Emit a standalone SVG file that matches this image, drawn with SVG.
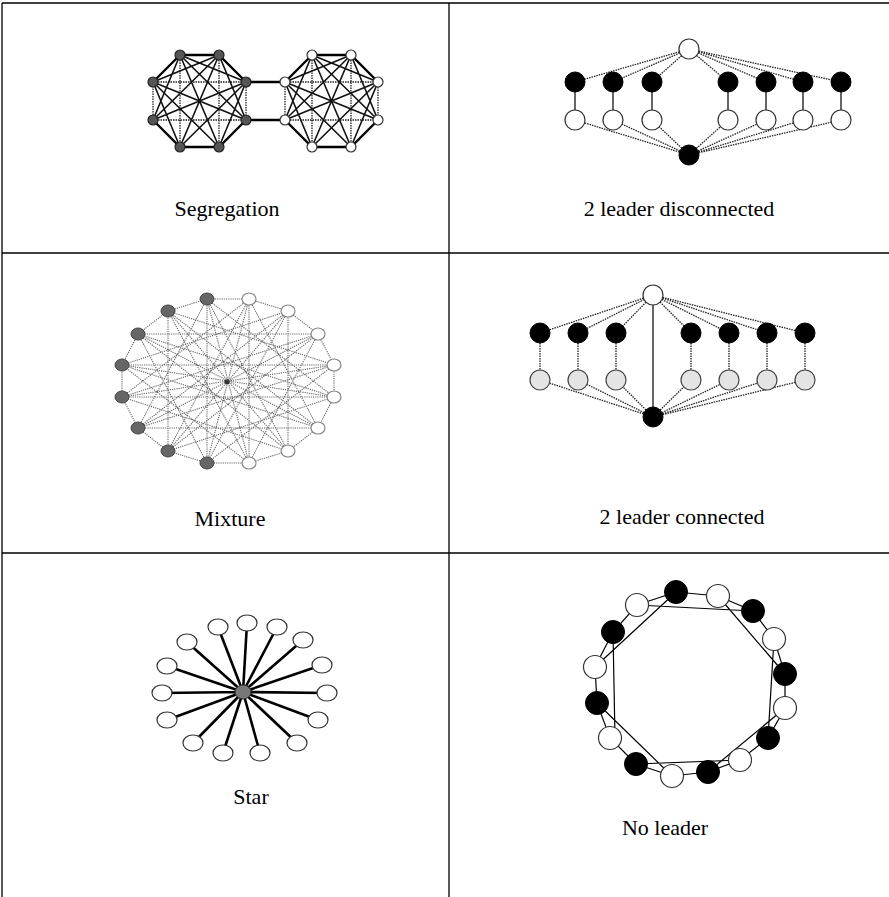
<svg xmlns="http://www.w3.org/2000/svg" width="889" height="897" viewBox="0 0 889 897">
<style>
.grid{stroke:#000;stroke-width:1.3;fill:none}
.lbl{font-family:'Liberation Serif','DejaVu Serif',serif;font-size:22px;fill:#000;text-anchor:middle}
.sol{stroke:#111;stroke-width:1.6;fill:none}
.thick{stroke:#000;stroke-width:2.4;fill:none}
.dot{stroke:#222;stroke-width:1.3;stroke-dasharray:1.5 1;fill:none}
.gdot{stroke:#666;stroke-width:1.1;stroke-dasharray:1.2 1;fill:none}
.thin{stroke:#000;stroke-width:1.2;fill:none}
.star{stroke:#000;stroke-width:2.6;fill:none}
.nd{fill:#555;stroke:#222;stroke-width:1.2}
.nw{fill:#fff;stroke:#333;stroke-width:1.2}
.nb{fill:#000;stroke:#000;stroke-width:1}
.ng{fill:#e4e4e4;stroke:#444;stroke-width:1.2}
.nm{fill:#666;stroke:#444;stroke-width:1}
.nmw{fill:#fff;stroke:#888;stroke-width:1.2}
</style>
<g id="grid">
<path class="grid" d="M2,3 H889 M2,3 V897 M449,3 V897 M2,253 H889 M2,553 H889"/>
</g>
<g id="connectors">
<path class="thick" d="M180,55 L219,55 L246,82 M246,120 L219,147 L180,147 L153,120 M153,82 L180,55"/>
<path class="dot" d="M246,82 L246,120 M153,120 L153,82 M180,55 L180,147 M219,55 L219,147 M153,82 L246,82 M153,120 L246,120"/>
<path class="sol" d="M180,55 L246,120 M180,55 L219,147 M180,55 L153,120 M219,55 L153,120 M219,55 L180,147 M219,55 L246,120 M246,82 L219,147 M246,82 L180,147 M246,82 L153,120 M153,82 L246,120 M153,82 L219,147 M153,82 L180,147 M180,55 L246,82 M219,55 L153,82 M153,120 L180,147 M246,120 L219,147"/>
<path class="thick" d="M312,55 L351,55 L378,82 M378,120 L351,147 L312,147 L285,120 M285,82 L312,55"/>
<path class="dot" d="M378,82 L378,120 M285,120 L285,82 M312,55 L312,147 M351,55 L351,147 M285,82 L378,82 M285,120 L378,120"/>
<path class="sol" d="M312,55 L378,120 M312,55 L351,147 M312,55 L285,120 M351,55 L285,120 M351,55 L312,147 M351,55 L378,120 M378,82 L351,147 M378,82 L312,147 M378,82 L285,120 M285,82 L378,120 M285,82 L351,147 M285,82 L312,147 M312,55 L378,82 M351,55 L285,82 M285,120 L312,147 M378,120 L351,147"/>
<path class="thick" d="M246,82 L285,82 M246,120 L285,120"/>
<path class="dot" d="M689,49 L575,82 M689,49 L613,82 M689,49 L652,82 M689,49 L728,82 M689,49 L766,82 M689,49 L803,82 M689,49 L841,82"/>
<path class="thin" d="M575,82 V120 M613,82 V120 M652,82 V120 M728,82 V120 M766,82 V120 M803,82 V120 M841,82 V120"/>
<path class="dot" d="M689,155 L575,120 M689,155 L613,120 M689,155 L652,120 M689,155 L728,120 M689,155 L766,120 M689,155 L803,120 M689,155 L841,120"/>
<path class="gdot" d="M334,397 L318,428 L288,451 L249,463 L207,463 L168,451 L138,428 L122,397 L122,365 L138,334 L168,311 L207,299 L249,299 L288,311 L318,334 L334,365 Z"/>
<path class="gdot" d="M334,397L122,365 M318,428L138,334 M288,451L168,311 M249,463L207,299 M207,463L249,299 M168,451L288,311 M138,428L318,334 M122,397L334,365"/>
<path class="gdot" d="M334,397L168,451 M318,428L138,428 M288,451L122,397 M249,463L122,365 M207,463L138,334 M168,451L168,311 M138,428L207,299 M122,397L249,299 M122,365L288,311 M138,334L318,334 M168,311L334,365 M207,299L334,397 M249,299L318,428 M288,311L288,451 M318,334L249,463 M334,365L207,463"/>
<path class="gdot" d="M334,397L122,397 M318,428L122,365 M288,451L138,334 M249,463L168,311 M207,463L207,299 M168,451L249,299 M138,428L288,311 M122,397L318,334 M122,365L334,365 M138,334L334,397 M168,311L318,428 M207,299L288,451 M249,299L249,463 M288,311L207,463 M318,334L168,451 M334,365L138,428"/>
<path class="dot" d="M653,295 L540,333 M653,295 L578,333 M653,295 L616,333 M653,295 L691,333 M653,295 L729,333 M653,295 L767,333 M653,295 L805,333"/>
<path class="thin" d="M653,295 L653,417"/>
<path class="dot" d="M540,333 V380 M578,333 V380 M616,333 V380 M691,333 V380 M729,333 V380 M767,333 V380 M805,333 V380"/>
<path class="dot" d="M653,417 L540,380 M653,417 L578,380 M653,417 L616,380 M653,417 L691,380 M653,417 L729,380 M653,417 L767,380 M653,417 L805,380"/>
<path class="star" d="M243,692 L218,627 M243,692 L247,623 M243,692 L277,627 M243,692 L303,640 M243,692 L322,665 M243,692 L327,693 M243,692 L318,720 M243,692 L297,743 M243,692 L260,753 M243,692 L223,753 M243,692 L193,743 M243,692 L167,720 M243,692 L162,693 M243,692 L167,666 M243,692 L187,642"/>
<path class="thin" d="M676,592 L718,596 L753,611 L774,639 L785,674 L785,708 L768,738 L740,760 L708,772 L672,776 L636,764 L610,738 L597,703 L595,667 L613,632 L637,605 Z"/>
<path class="thin" d="M637,605 L753,611 M676,592 L595,667 M718,596 L785,674 M774,639 L768,738 M785,708 L708,772 M597,703 L672,776 M613,632 L615,738 M636,764 L740,760"/>
</g>
<g id="seg-left-nodes">
<circle class="nd" cx="180" cy="55" r="5"/><circle class="nd" cx="219" cy="55" r="5"/><circle class="nd" cx="246" cy="82" r="5"/><circle class="nd" cx="246" cy="120" r="5"/><circle class="nd" cx="219" cy="147" r="5"/><circle class="nd" cx="180" cy="147" r="5"/><circle class="nd" cx="153" cy="120" r="5"/><circle class="nd" cx="153" cy="82" r="5"/>
</g>
<g id="seg-right-nodes">
<circle class="nw" cx="312" cy="55" r="5"/><circle class="nw" cx="351" cy="55" r="5"/><circle class="nw" cx="378" cy="82" r="5"/><circle class="nw" cx="378" cy="120" r="5"/><circle class="nw" cx="351" cy="147" r="5"/><circle class="nw" cx="312" cy="147" r="5"/><circle class="nw" cx="285" cy="120" r="5"/><circle class="nw" cx="285" cy="82" r="5"/>
</g>
<g id="seg-label"><text class="lbl" font-family="Liberation Serif, serif" x="227" y="216">Segregation</text></g>
<g id="d2-top"><circle class="nw" cx="689" cy="49" r="10"/></g>
<g id="d2-black">
<circle class="nb" cx="575" cy="82" r="10"/><circle class="nb" cx="613" cy="82" r="10"/><circle class="nb" cx="652" cy="82" r="10"/><circle class="nb" cx="728" cy="82" r="10"/><circle class="nb" cx="766" cy="82" r="10"/><circle class="nb" cx="803" cy="82" r="10"/><circle class="nb" cx="841" cy="82" r="10"/>
</g>
<g id="d2-white">
<circle class="nw" cx="575" cy="120" r="10"/><circle class="nw" cx="613" cy="120" r="10"/><circle class="nw" cx="652" cy="120" r="10"/><circle class="nw" cx="728" cy="120" r="10"/><circle class="nw" cx="766" cy="120" r="10"/><circle class="nw" cx="803" cy="120" r="10"/><circle class="nw" cx="841" cy="120" r="10"/>
</g>
<g id="d2-bottom"><circle class="nb" cx="689" cy="155" r="10"/></g>
<g id="d2-label"><text class="lbl" font-family="Liberation Serif, serif" x="679" y="216">2 leader disconnected</text></g>
<g id="mix-nodes">
<ellipse class="nmw" cx="334" cy="397" rx="7" ry="6"/><ellipse class="nmw" cx="318" cy="428" rx="7" ry="6"/><ellipse class="nmw" cx="288" cy="451" rx="7" ry="6"/><ellipse class="nmw" cx="249" cy="463" rx="7" ry="6"/>
<ellipse class="nm" cx="207" cy="463" rx="7" ry="6"/><ellipse class="nm" cx="168" cy="451" rx="7" ry="6"/><ellipse class="nm" cx="138" cy="428" rx="7" ry="6"/><ellipse class="nm" cx="122" cy="397" rx="7" ry="6"/>
<ellipse class="nm" cx="122" cy="365" rx="7" ry="6"/><ellipse class="nm" cx="138" cy="334" rx="7" ry="6"/><ellipse class="nm" cx="168" cy="311" rx="7" ry="6"/><ellipse class="nm" cx="207" cy="299" rx="7" ry="6"/>
<ellipse class="nmw" cx="249" cy="299" rx="7" ry="6"/><ellipse class="nmw" cx="288" cy="311" rx="7" ry="6"/><ellipse class="nmw" cx="318" cy="334" rx="7" ry="6"/><ellipse class="nmw" cx="334" cy="365" rx="7" ry="6"/>
<circle fill="#333" cx="227" cy="382" r="2.5"/>
</g>
<g id="mix-label"><text class="lbl" font-family="Liberation Serif, serif" x="230" y="526">Mixture</text></g>
<g id="c2-top"><circle class="nw" cx="653" cy="295" r="10"/></g>
<g id="c2-black">
<circle class="nb" cx="540" cy="333" r="10"/><circle class="nb" cx="578" cy="333" r="10"/><circle class="nb" cx="616" cy="333" r="10"/><circle class="nb" cx="691" cy="333" r="10"/><circle class="nb" cx="729" cy="333" r="10"/><circle class="nb" cx="767" cy="333" r="10"/><circle class="nb" cx="805" cy="333" r="10"/>
</g>
<g id="c2-white">
<circle class="ng" cx="540" cy="380" r="10"/><circle class="ng" cx="578" cy="380" r="10"/><circle class="ng" cx="616" cy="380" r="10"/><circle class="ng" cx="691" cy="380" r="10"/><circle class="ng" cx="729" cy="380" r="10"/><circle class="ng" cx="767" cy="380" r="10"/><circle class="ng" cx="805" cy="380" r="10"/>
</g>
<g id="c2-bottom"><circle class="nb" cx="653" cy="417" r="10"/></g>
<g id="c2-label"><text class="lbl" font-family="Liberation Serif, serif" x="682" y="524">2 leader connected</text></g>
<g id="star-nodes">
<ellipse class="nw" cx="218" cy="627" rx="10" ry="8"/><ellipse class="nw" cx="247" cy="623" rx="10" ry="8"/><ellipse class="nw" cx="277" cy="627" rx="10" ry="8"/><ellipse class="nw" cx="303" cy="640" rx="10" ry="8"/><ellipse class="nw" cx="322" cy="665" rx="10" ry="8"/><ellipse class="nw" cx="327" cy="693" rx="10" ry="8"/><ellipse class="nw" cx="318" cy="720" rx="10" ry="8"/><ellipse class="nw" cx="297" cy="743" rx="10" ry="8"/><ellipse class="nw" cx="260" cy="753" rx="10" ry="8"/><ellipse class="nw" cx="223" cy="753" rx="10" ry="8"/><ellipse class="nw" cx="193" cy="743" rx="10" ry="8"/><ellipse class="nw" cx="167" cy="720" rx="10" ry="8"/><ellipse class="nw" cx="162" cy="693" rx="10" ry="8"/><ellipse class="nw" cx="167" cy="666" rx="10" ry="8"/><ellipse class="nw" cx="187" cy="642" rx="10" ry="8"/>
<ellipse cx="243" cy="692" rx="8" ry="7" fill="#777" stroke="#333" stroke-width="1"/>
</g>
<g id="star-label"><text class="lbl" font-family="Liberation Serif, serif" x="251" y="804">Star</text></g>
<g id="nl-nodes">
<circle class="nb" cx="676" cy="592" r="11.5"/><circle class="nw" cx="718" cy="596" r="11.5"/><circle class="nb" cx="753" cy="611" r="11.5"/><circle class="nw" cx="774" cy="639" r="11.5"/><circle class="nb" cx="785" cy="674" r="11.5"/><circle class="nw" cx="785" cy="708" r="11.5"/><circle class="nb" cx="768" cy="738" r="11.5"/><circle class="nw" cx="740" cy="760" r="11.5"/><circle class="nb" cx="708" cy="772" r="11.5"/><circle class="nw" cx="672" cy="776" r="11.5"/><circle class="nb" cx="636" cy="764" r="11.5"/><circle class="nw" cx="610" cy="738" r="11.5"/><circle class="nb" cx="597" cy="703" r="11.5"/><circle class="nw" cx="595" cy="667" r="11.5"/><circle class="nb" cx="613" cy="632" r="11.5"/><circle class="nw" cx="637" cy="605" r="11.5"/>
</g>
<g id="nl-label"><text class="lbl" font-family="Liberation Serif, serif" x="665" y="835">No leader</text></g>
</svg>
